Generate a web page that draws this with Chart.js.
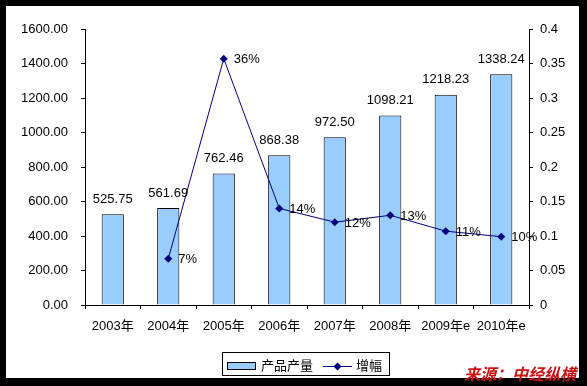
<!DOCTYPE html>
<html>
<head>
<meta charset="utf-8">
<script src="https://cdn.jsdelivr.net/npm/chart.js@4/dist/chart.umd.min.js"></script>
<style>
html,body{margin:0;padding:0;background:#000;}
canvas{display:block;}
</style>
</head>
<body>
<canvas id="c" width="587" height="386"></canvas>
<script>
const categories = ['2003年','2004年','2005年','2006年','2007年','2008年','2009年e','2010年e'];
const outputValues = [525.75, 561.69, 762.46, 868.38, 972.50, 1098.21, 1218.23, 1338.24];
const growthValues = [null, 0.067, 0.357, 0.14, 0.12, 0.13, 0.107, 0.099];
const growthLabels = [null, '7%', '36%', '14%', '12%', '13%', '11%', '10%'];
const seriesNames = ['产品产量', '增幅'];
const sourceText = '来源：中经纵横';

const FONT = '"Liberation Sans", Arial, "Noto Sans CJK SC", sans-serif';
Chart.defaults.font.family = FONT;
Chart.defaults.font.size = 13;
Chart.defaults.color = '#000';

const decor = {
  id: 'decor',
  beforeDraw(chart) {
    const ctx = chart.ctx;
    ctx.save();
    ctx.fillStyle = '#000';
    ctx.fillRect(0, 0, chart.width, chart.height);
    ctx.fillStyle = '#fff';
    ctx.fillRect(6, 6, 573, 372);
    ctx.restore();
  },
  afterDatasetsDraw(chart) {
    const ctx = chart.ctx;
    ctx.save();
    ctx.font = '13px ' + FONT;
    ctx.fillStyle = '#000';
    // bar labels
    const barMeta = chart.getDatasetMeta(0);
    ctx.textAlign = 'center';
    ctx.textBaseline = 'middle';
    barMeta.data.forEach((el, i) => {
      ctx.fillText(outputValues[i].toFixed(2), el.x, el.y - 15);
    });
    // line labels
    const lineMeta = chart.getDatasetMeta(1);
    ctx.textAlign = 'left';
    lineMeta.data.forEach((el, i) => {
      if (growthValues[i] == null) return;
      ctx.fillText(growthLabels[i], el.x + 10, el.y + 1);
    });
    ctx.restore();
  },
  afterDraw(chart) {
    const ctx = chart.ctx;
    ctx.save();
    // legend box
    ctx.fillStyle = '#fff';
    ctx.fillRect(222.5, 352.5, 167, 23);
    ctx.strokeStyle = '#000';
    ctx.lineWidth = 1;
    ctx.strokeRect(222.5, 352.5, 167, 23);
    // bar swatch
    ctx.fillStyle = '#99CCFF';
    ctx.fillRect(227.5, 362.5, 28, 7);
    ctx.strokeRect(227.5, 362.5, 28, 7);
    ctx.fillStyle = '#000';
    ctx.font = '13px ' + FONT;
    ctx.textAlign = 'left';
    ctx.textBaseline = 'middle';
    ctx.fillText(seriesNames[0], 261, 366);
    // line swatch
    ctx.strokeStyle = '#000080';
    ctx.beginPath();
    ctx.moveTo(323, 366.5);
    ctx.lineTo(352, 366.5);
    ctx.stroke();
    ctx.fillStyle = '#000080';
    ctx.beginPath();
    ctx.moveTo(337.5, 362.5);
    ctx.lineTo(341.5, 366.5);
    ctx.lineTo(337.5, 370.5);
    ctx.lineTo(333.5, 366.5);
    ctx.closePath();
    ctx.fill();
    ctx.fillStyle = '#000';
    ctx.fillText(seriesNames[1], 356, 366);
    // source watermark
    ctx.fillStyle = '#cc1111';
    ctx.font = 'italic bold 16px "Noto Sans CJK SC", sans-serif';
    ctx.textAlign = 'left';
    ctx.fillText(sourceText, 464, 374);
    ctx.restore();
  }
};

new Chart(document.getElementById('c'), {
  data: {
    labels: categories,
    datasets: [
      {
        type: 'bar',
        label: seriesNames[0],
        data: outputValues,
        backgroundColor: '#99CCFF',
        borderColor: '#000',
        borderWidth: 1,
        barPercentage: 0.4,
        categoryPercentage: 1,
        yAxisID: 'y',
        order: 2
      },
      {
        type: 'line',
        label: seriesNames[1],
        data: growthValues,
        borderColor: '#000080',
        backgroundColor: '#000080',
        borderWidth: 1,
        pointStyle: 'rectRot',
        pointRadius: 4,
        pointBorderWidth: 0,
        tension: 0,
        yAxisID: 'y1',
        order: 1
      }
    ]
  },
  options: {
    responsive: false,
    animation: false,
    layout: { padding: { top: 29, left: 0, right: 0, bottom: 0 } },
    plugins: { legend: { display: false }, tooltip: { enabled: false } },
    scales: {
      x: {
        offset: true,
        grid: { display: true, drawOnChartArea: false, offset: true, tickLength: 4, color: '#000' },
        border: { display: true, color: '#000' },
        ticks: { padding: 10, maxRotation: 0, autoSkip: false, font: { size: 13 } },
        afterFit(s) { s.height = 81; }
      },
      y: {
        position: 'left',
        min: 0, max: 1600,
        grid: { drawOnChartArea: false, tickLength: 4, color: '#000' },
        border: { display: true, color: '#000' },
        ticks: { stepSize: 200, padding: 13, callback: v => Number(v).toFixed(2) },
        afterFit(s) { s.width = 85; }
      },
      y1: {
        position: 'right',
        min: 0, max: 0.4,
        grid: { drawOnChartArea: false, tickLength: 4, color: '#000' },
        border: { display: true, color: '#000' },
        ticks: { stepSize: 0.05, padding: 7, callback: v => String(parseFloat(Number(v).toFixed(2))) },
        afterFit(s) { s.width = 58; }
      }
    }
  },
  plugins: [decor]
});
</script>
</body>
</html>
